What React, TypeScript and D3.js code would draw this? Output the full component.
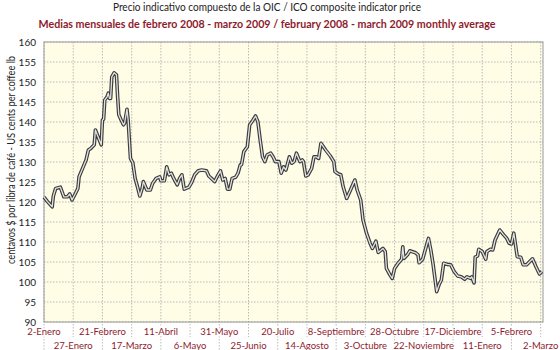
import React from 'react';
import * as d3 from 'd3';

// daily indicator price, US cents/lb
const dates = [
  '2008-01-02', '2008-01-05', '2008-01-09', '2008-01-10', '2008-01-12', '2008-01-16', '2008-01-19', '2008-01-22', '2008-01-24', '2008-01-26',
  '2008-01-29', '2008-01-31', '2008-02-01', '2008-02-04', '2008-02-07', '2008-02-09', '2008-02-11', '2008-02-14', '2008-02-15', '2008-02-17',
  '2008-02-20', '2008-02-21', '2008-02-22', '2008-02-23', '2008-02-25', '2008-02-26', '2008-02-27', '2008-02-28', '2008-02-29', '2008-03-02',
  '2008-03-04', '2008-03-05', '2008-03-06', '2008-03-08', '2008-03-10', '2008-03-11', '2008-03-13', '2008-03-14', '2008-03-16', '2008-03-18',
  '2008-03-20', '2008-03-22', '2008-03-24', '2008-03-26', '2008-03-27', '2008-03-30', '2008-04-02', '2008-04-04', '2008-04-07', '2008-04-10',
  '2008-04-11', '2008-04-14', '2008-04-16', '2008-04-18', '2008-04-20', '2008-04-22', '2008-04-25', '2008-04-27', '2008-04-29', '2008-05-01',
  '2008-05-05', '2008-05-07', '2008-05-10', '2008-05-13', '2008-05-16', '2008-05-20', '2008-05-22', '2008-05-25', '2008-05-27', '2008-05-30',
  '2008-06-01', '2008-06-03', '2008-06-05', '2008-06-07', '2008-06-09', '2008-06-11', '2008-06-14', '2008-06-16', '2008-06-18', '2008-06-19',
  '2008-06-21', '2008-06-24', '2008-06-26', '2008-06-28', '2008-07-01', '2008-07-03', '2008-07-05', '2008-07-07', '2008-07-09', '2008-07-11',
  '2008-07-14', '2008-07-16', '2008-07-18', '2008-07-21', '2008-07-23', '2008-07-25', '2008-07-27', '2008-07-30', '2008-08-01', '2008-08-03',
  '2008-08-05', '2008-08-08', '2008-08-10', '2008-08-11', '2008-08-13', '2008-08-15', '2008-08-18', '2008-08-20', '2008-08-22', '2008-08-24',
  '2008-08-26', '2008-08-30', '2008-09-03', '2008-09-06', '2008-09-07', '2008-09-10', '2008-09-12', '2008-09-14', '2008-09-17', '2008-09-20',
  '2008-09-24', '2008-09-26', '2008-09-29', '2008-10-01', '2008-10-04', '2008-10-07', '2008-10-09', '2008-10-12', '2008-10-14', '2008-10-18',
  '2008-10-20', '2008-10-21', '2008-10-24', '2008-10-26', '2008-10-28', '2008-10-31', '2008-11-03', '2008-11-04', '2008-11-05', '2008-11-08',
  '2008-11-10', '2008-11-15', '2008-11-17', '2008-11-18', '2008-11-21', '2008-11-24', '2008-11-26', '2008-11-28', '2008-11-30', '2008-12-03',
  '2008-12-05', '2008-12-07', '2008-12-09', '2008-12-12', '2008-12-15', '2008-12-18', '2008-12-21', '2008-12-24', '2008-12-27', '2008-12-29',
  '2009-01-01', '2009-01-02', '2009-01-04', '2009-01-05', '2009-01-07', '2009-01-08', '2009-01-11', '2009-01-14', '2009-01-15', '2009-01-18',
  '2009-01-20', '2009-01-22', '2009-01-26', '2009-01-29', '2009-02-01', '2009-02-03', '2009-02-05', '2009-02-07', '2009-02-10', '2009-02-13',
  '2009-02-15', '2009-02-18', '2009-02-23', '2009-02-26', '2009-03-01', '2009-03-03',
];
const prices = [
  121.2, 120.1, 118.8, 121.5, 123.4, 123.7, 121.3, 121.3, 122.0, 120.5,
  122.2, 123.4, 126.3, 128.4, 130.5, 133.0, 133.4, 134.3, 138.0, 136.5,
  134.3, 140.5, 140.7, 145.5, 146.3, 147.2, 145.9, 145.9, 151.3, 152.3,
  151.8, 146.3, 141.8, 140.5, 139.3, 139.7, 143.2, 140.5, 130.9, 129.8,
  125.9, 123.8, 121.5, 123.4, 125.1, 123.0, 123.0, 124.7, 125.9, 126.3,
  125.3, 125.3, 128.8, 126.8, 127.2, 125.9, 124.3, 125.9, 126.8, 123.2,
  123.7, 124.7, 126.8, 127.8, 128.0, 127.8, 126.5, 125.7, 125.1, 126.8,
  127.8, 125.5, 125.9, 123.2, 123.2, 125.9, 126.2, 127.2, 129.3, 129.3,
  132.6, 133.8, 139.3, 140.1, 141.5, 140.1, 135.5, 131.3, 130.1, 131.8,
  132.2, 131.3, 130.1, 130.1, 127.2, 128.8, 128.0, 131.3, 129.7, 130.1,
  132.2, 130.1, 130.5, 130.1, 126.5, 126.8, 128.4, 131.3, 131.3, 130.9,
  134.7, 133.0, 131.5, 130.1, 127.6, 127.0, 126.8, 123.8, 120.9, 122.8,
  125.5, 123.0, 120.5, 115.5, 112.2, 109.7, 108.4, 110.2, 107.4, 108.4,
  107.6, 103.4, 101.8, 100.9, 103.4, 104.7, 105.7, 108.8, 105.9, 106.8,
  107.8, 107.3, 106.8, 104.8, 105.7, 108.8, 110.9, 108.0, 104.3, 97.6,
  99.3, 100.5, 104.7, 104.4, 104.3, 102.6, 101.5, 101.3, 100.7, 101.3,
  100.9, 101.3, 99.8, 106.2, 106.5, 108.2, 107.6, 105.7, 107.6, 108.2,
  108.0, 110.5, 113.0, 111.9, 110.9, 109.7, 109.5, 112.2, 106.3, 106.2,
  104.3, 104.3, 105.8, 103.8, 102.0, 102.6,
];

const tickDates = [
  '2008-01-02', '2008-01-27', '2008-02-21', '2008-03-17', '2008-04-11', '2008-05-06',
  '2008-05-31', '2008-06-25', '2008-07-20', '2008-08-14', '2008-09-08', '2008-10-03',
  '2008-10-28', '2008-11-22', '2008-12-17', '2009-01-11', '2009-02-05', '2009-03-02',
];
const tickLabels = [
  '2-Enero', '27-Enero', '21-Febrero', '17-Marzo', '11-Abril', '6-Mayo',
  '31-Mayo', '25-Junio', '20-Julio', '14-Agosto', '8-Septiembre', '3-Octubre',
  '28-Octubre', '22-Noviembre', '17-Diciembre', '11-Enero', '5-Febrero', '2-Marzo',
];
const yTicks = [90, 95, 100, 105, 110, 115, 120, 125, 130, 135, 140, 145, 150, 155, 160];

const W = 560, H = 350;
const left = 44, right = 543, top = 42, bottom = 322;
const FONT = 'Lato, "Open Sans", sans-serif';
const RED = '#8e1b2c';

const parse = d3.timeParse('%Y-%m-%d');

export default function App() {
  const pts = dates.map((d, i) => ({ date: parse(d)!, v: prices[i] }));
  const x = d3.scaleTime()
    .domain([parse('2008-01-02')!, parse('2009-03-04')!])
    .range([left, right]);
  const y = d3.scaleLinear().domain([90, 160]).range([bottom, top]);
  const line = d3.line<{ date: Date; v: number }>()
    .x(d => x(d.date))
    .y(d => y(d.v));
  const path = line(pts) || '';

  return (
    <svg width={W} height={H} style={{ position: 'absolute', left: 0, top: 0, background: '#fff' }}
      fontFamily={FONT}>
      <text x={267} y={11} textAnchor="middle" fontSize={12} fill="#222"
        textLength={308} lengthAdjust="spacingAndGlyphs">
        Precio indicativo compuesto de la OIC / ICO composite indicator price
      </text>
      <text x={267} y={27.5} textAnchor="middle" fontSize={12} fontWeight="bold" fill={RED}
        textLength={457} lengthAdjust="spacingAndGlyphs">
        Medias mensuales de febrero 2008 - marzo 2009 / february 2008 - march 2009 monthly average
      </text>

      <rect x={left} y={top} width={right - left} height={bottom - top} fill="#fffde6" />

      {yTicks.map(t => (
        <line key={'h' + t} x1={left} x2={right} y1={y(t)} y2={y(t)}
          stroke="#aaa" strokeWidth={0.8} strokeDasharray="1.5,1.5" />
      ))}
      {tickDates.map((d, i) => {
        const px = x(parse(d)!);
        return (
          <line key={'v' + d} x1={px} x2={px} y1={top} y2={i % 2 === 0 ? 350 : 337}
            stroke="#aaa" strokeWidth={0.8} strokeDasharray="1.5,1.5" />
        );
      })}

      <rect x={left} y={top} width={right - left} height={bottom - top} fill="none"
        stroke="#999" strokeWidth={1} />

      <path d={path} fill="none" stroke="#3c3c3c" strokeWidth={3.6} strokeLinejoin="round" />
      <path d={path} fill="none" stroke="#e2e2e2" strokeWidth={1.3} strokeLinejoin="round" />

      {yTicks.map(t => (
        <text key={'yt' + t} x={36} y={y(t)} dy="0.35em" textAnchor="end" fontSize={10} fill="#222">
          {t}
        </text>
      ))}

      {tickDates.map((d, i) => (
        <text key={'xt' + d} x={x(parse(d)!)} y={i % 2 === 0 ? 335 : 348.5} textAnchor="middle"
          fontSize={9.5} fill={RED} stroke="#fff" strokeWidth={3} paintOrder="stroke">
          {tickLabels[i]}
        </text>
      ))}

      <text transform="translate(15,160) rotate(-90)" textAnchor="middle" fontSize={11.5} fill="#222"
        textLength={208} lengthAdjust="spacingAndGlyphs">
        centavos $ por libra de café -  US cents per coffee lb
      </text>
    </svg>
  );
}
